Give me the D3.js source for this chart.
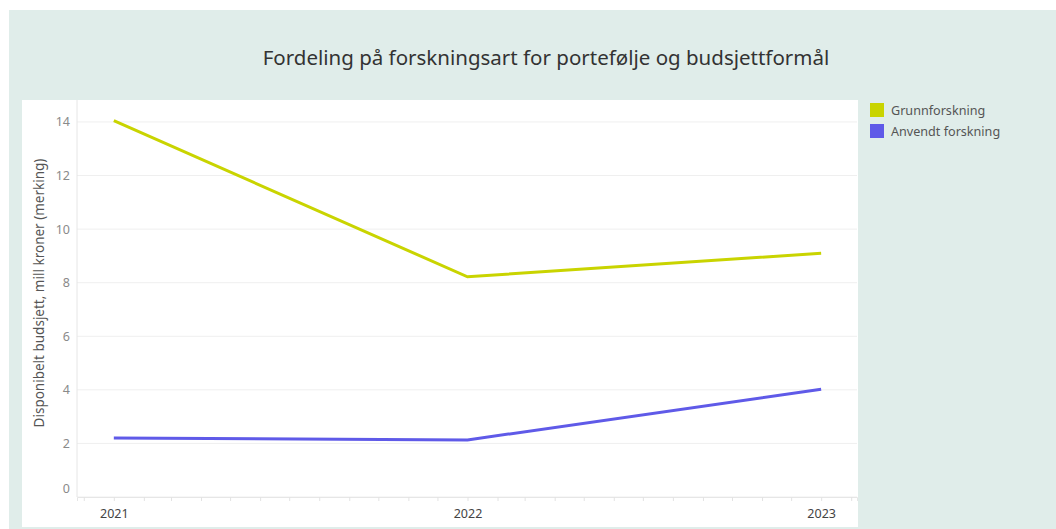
<!DOCTYPE html>
<html>
<head>
<meta charset="utf-8">
<script src="https://cdn.jsdelivr.net/npm/d3@7"></script>
<style>
  body { margin:0; background:#fff; }
  svg text { font-family: "Noto Sans", "DejaVu Sans", sans-serif; }
</style>
</head>
<body>
<svg id="chart" width="1056" height="529"></svg>
<script>
var years = [2021, 2022, 2023]
var grunnforskning = [14.05, 8.22, 9.1]
var anvendt = [2.2, 2.13, 4.02]
var seriesNames = ['Grunnforskning', 'Anvendt forskning']
var seriesColors = ['#c9d400', '#5f5ae8']
var yTicks = [0, 2, 4, 6, 8, 10, 12, 14]

var svg = d3.select('#chart')

// background panels
svg.append('rect').attr('x',9).attr('y',10).attr('width',1047).attr('height',519).attr('fill','#e0edea')
svg.append('rect').attr('x',22).attr('y',100).attr('width',836).attr('height',427).attr('fill','#ffffff')

svg.append('text')
   .attr('x',546).attr('y',65)
   .attr('text-anchor','middle')
   .attr('font-size',20.5)
   .attr('fill','#333')
   .text('Fordeling på forskningsart for portefølje og budsjettformål')

var plotLeft = 77, plotRight = 857, plotTop = 100, plotBottom = 497

var xScale = d3.scaleTime()
               .domain([new Date(2020,10,24), new Date(2023,1,7)])
               .range([plotLeft,plotRight])
var yScale = d3.scaleLinear()
               .domain([0,14.82])
               .range([plotBottom,plotTop])

// gridlines
svg.append('g').selectAll('line').data(yTicks).enter()
   .append('line')
   .attr('x1',plotLeft).attr('x2',plotRight)
   .attr('y1',d=>yScale(d)).attr('y2',d=>yScale(d))
   .attr('stroke','#efefef').attr('stroke-width',1)

svg.append('line').attr('x1',plotLeft).attr('x2',plotLeft).attr('y1',plotTop).attr('y2',plotBottom)
   .attr('stroke','#e6e6e6')

var yAxis = d3.axisLeft(yScale).tickValues(yTicks).tickSize(0).tickPadding(7)
var gy = svg.append('g').attr('transform','translate('+plotLeft+',0)').call(yAxis)
gy.select('.domain').remove()
gy.selectAll('text').attr('font-size',12.5).attr('fill','#8a8a8a')
// bottom label sits a bit above the axis line, like the original
gy.selectAll('text').filter(d=>d==0).attr('dy','-0.4em')

// monthly minor ticks, labels on years
var xAxis = d3.axisBottom(xScale)
              .ticks(d3.timeMonth.every(1))
              .tickSize(4)
              .tickFormat(d => d.getMonth()==0 ? d3.timeFormat('%Y')(d) : '')
var gx = svg.append('g').attr('transform','translate(0,'+plotBottom+')').call(xAxis)
gx.select('.domain').attr('stroke','#e6e6e6')
gx.selectAll('.tick line').attr('stroke','#e3e3e3')
gx.selectAll('text').attr('font-size',12.5).attr('fill','#444').attr('dy','1.15em')

svg.append('text')
   .attr('transform','rotate(-90)')
   .attr('x',-293).attr('y',44)
   .attr('text-anchor','middle')
   .attr('font-size',13.5)
   .attr('fill','#555')
   .text('Disponibelt budsjett, mill kroner (merking)')

var line = d3.line()
             .x((d,i)=>xScale(new Date(years[i],0,1)))
             .y(d=>yScale(d))

;[grunnforskning, anvendt].forEach((s,k)=>{
    svg.append('path')
       .attr('d',line(s))
       .attr('fill','none')
       .attr('stroke',seriesColors[k])
       .attr('stroke-width',3)
})

var legend = svg.append('g').selectAll('g').data(seriesNames).enter()
                .append('g')
                .attr('transform',(d,i)=>'translate(870,'+(103+i*21)+')')
legend.append('rect').attr('width',14).attr('height',14).attr('fill',(d,i)=>seriesColors[i])
legend.append('text').attr('x',21).attr('y',11.5).attr('font-size',12.6).attr('fill','#555').text(d=>d)
</script>
</body>
</html>
